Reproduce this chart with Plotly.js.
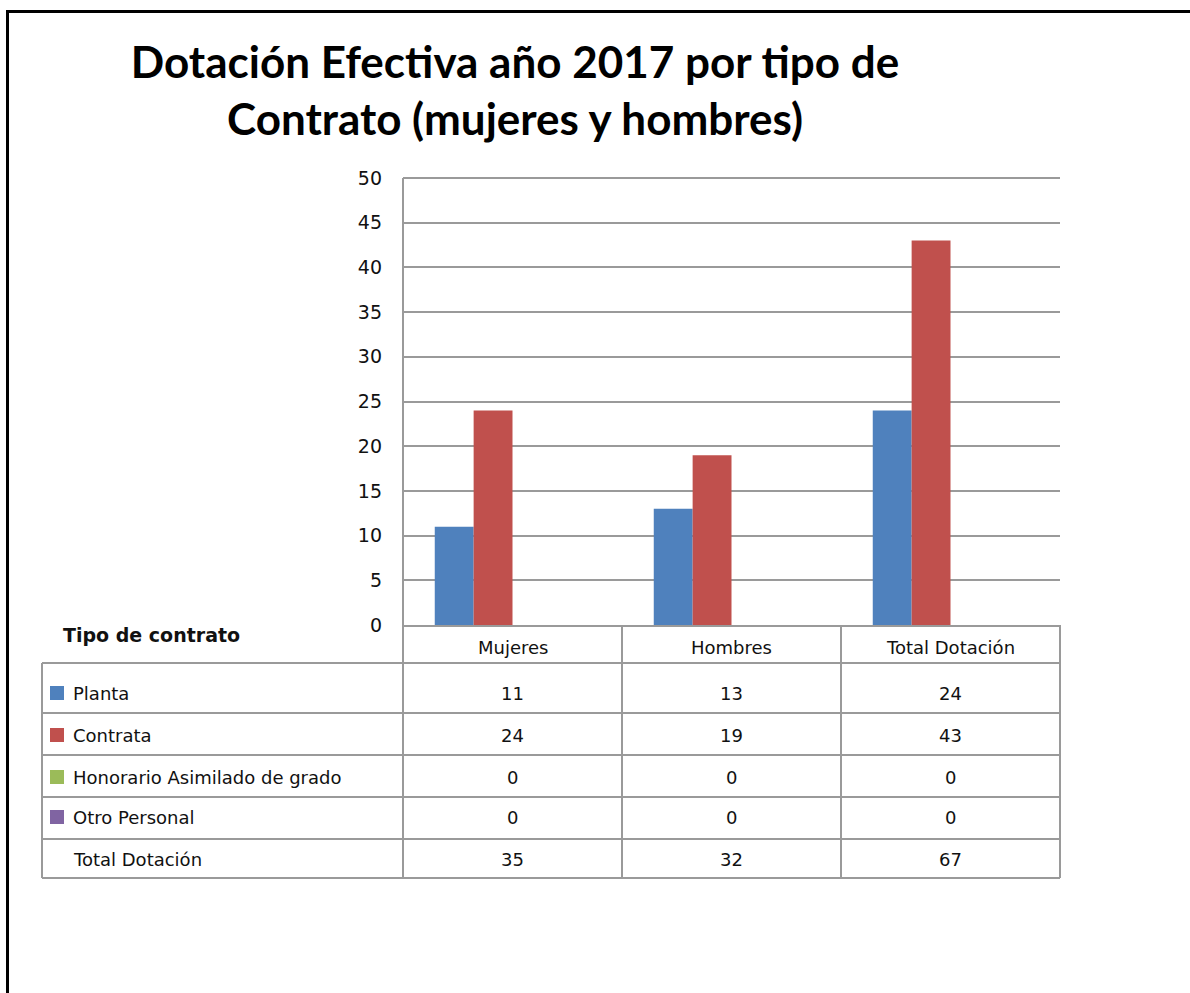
<!DOCTYPE html>
<html>
<head>
<meta charset="utf-8">
<script src="https://cdn.plot.ly/plotly-3.0.1.min.js"></script>
<style>
html,body{margin:0;padding:0;background:#fff;}
#chart{width:1190px;height:993px;}
</style>
</head>
<body>
<div id="chart"></div>
<script>
// ---- data ----
var categories = ['Mujeres', 'Hombres', 'Total Dotación'];
var seriesNames = ['Planta', 'Contrata', 'Honorario Asimilado de grado', 'Otro Personal'];
var planta = [11, 13, 24];
var contrata = [24, 19, 43];
var honorario = [0, 0, 0];
var otroPersonal = [0, 0, 0];
var totalLabel = 'Total Dotación';
var totalDotacion = [35, 32, 67];
var yTicks = [0, 5, 10, 15, 20, 25, 30, 35, 40, 45, 50];
var tableHeader = 'Tipo de contrato';
var chartTitle = 'Dotación Efectiva año 2017 por tipo de<br>Contrato (mujeres y hombres)';

var seriesValues = [planta, contrata, honorario, otroPersonal];
var seriesColors = ['#4F81BD', '#C0504D', '#9BBB59', '#8064A2'];

// ---- geometry helpers (pixel -> paper) ----
var L = 403, R = 1060, T = 178, B = 625, W = 1190, H = 993;
function px(x) { return (x - L) / (R - L); }
function py(y) { return (B - y) / (B - T); }

var traces = seriesValues.map(function (vals, i) {
  return {
    type: 'bar', x: categories, y: vals, name: seriesNames[i],
    marker: { color: seriesColors[i] }, hoverinfo: 'x+y+name'
  };
});

var lineCol = '#9a9a9a';
var shapes = [];
function hline(y, x0, x1, col, w) {
  shapes.push({ type: 'line', xref: 'paper', yref: 'paper', x0: px(x0), x1: px(x1), y0: py(y), y1: py(y), line: { color: col || lineCol, width: w || 2 } });
}
function vline(x, y0, y1, col, w) {
  shapes.push({ type: 'line', xref: 'paper', yref: 'paper', x0: px(x), x1: px(x), y0: py(y0), y1: py(y1), line: { color: col || lineCol, width: w || 2 } });
}
// top gridline of the plot area
hline(T, L, R);
// table grid
var rowLines = [663, 713, 755, 797, 839, 878];
rowLines.forEach(function (y) { hline(y, 42, R); });
vline(42, 663, 878);
vline(L, T, 878);
for (var k = 1; k <= categories.length; k++) {
  var xb = L + (R - L) * k / categories.length;
  vline(xb, B, 878);
}
// outer frame (top & left)
shapes.push({ type: 'line', xref: 'paper', yref: 'paper', x0: px(6), x1: px(W + 5), y0: py(11.5), y1: py(11.5), line: { color: '#000', width: 3 } });
shapes.push({ type: 'line', xref: 'paper', yref: 'paper', x0: px(7.5), x1: px(7.5), y0: py(10), y1: py(H + 5), line: { color: '#000', width: 3 } });

var fontTable = { family: 'DejaVu Sans', size: 18, color: '#111' };
var annotations = [];
function ann(text, x, xref, y, xanchor, font) {
  annotations.push({ text: text, x: x, xref: xref, y: py(y), yref: 'paper', xanchor: xanchor, yanchor: 'middle', showarrow: false, font: font || fontTable });
}
// header
ann('<b>' + tableHeader + '</b>', px(61), 'paper', 635, 'left', { family: 'DejaVu Sans', size: 19, color: '#111' });
categories.forEach(function (c) { ann(c, c, 'x', 647, 'center'); });
var rowY = [693, 735, 777, 817, 859];
seriesNames.forEach(function (n, i) {
  ann(n, px(71), 'paper', rowY[i], 'left');
  shapes.push({ type: 'rect', xref: 'paper', yref: 'paper', x0: px(50), x1: px(64), y0: py(rowY[i] - 7), y1: py(rowY[i] + 7), line: { width: 0 }, fillcolor: seriesColors[i] });
  seriesValues[i].forEach(function (v, j) { ann(String(v), categories[j], 'x', rowY[i], 'center'); });
});
ann(totalLabel, px(71), 'paper', rowY[4], 'left');
totalDotacion.forEach(function (v, j) { ann(String(v), categories[j], 'x', rowY[4], 'center'); });

var layout = {
  width: W, height: H,
  margin: { l: L, r: W - R, t: T, b: H - B, pad: 0 },
  paper_bgcolor: '#fff', plot_bgcolor: '#fff',
  showlegend: false,
  barmode: 'group', bargap: 0.29, bargroupgap: 0,
  title: {
    text: '<b>' + chartTitle + '</b>',
    font: { family: 'Lato', size: 44, color: '#000' },
    x: 515 / W, xanchor: 'center', xref: 'container',
    y: 1 - 78 / H, yanchor: 'top', yref: 'container'
  },
  xaxis: {
    type: 'category', range: [-0.5, 2.5], showticklabels: false, ticks: '',
    showgrid: false, zeroline: false, showline: true, linecolor: lineCol, linewidth: 2, fixedrange: true
  },
  yaxis: {
    range: [0, 50], tickvals: yTicks, ticktext: yTicks.map(String), ticks: '',
    showgrid: true, gridcolor: lineCol, gridwidth: 2, zeroline: false,
    showline: false, ticklabelstandoff: 20,
    tickfont: { family: 'DejaVu Sans', size: 19, color: '#111' }, fixedrange: true
  },
  shapes: shapes,
  annotations: annotations
};

Plotly.newPlot('chart', traces, layout, { displayModeBar: false, staticPlot: true });
</script>
</body>
</html>
